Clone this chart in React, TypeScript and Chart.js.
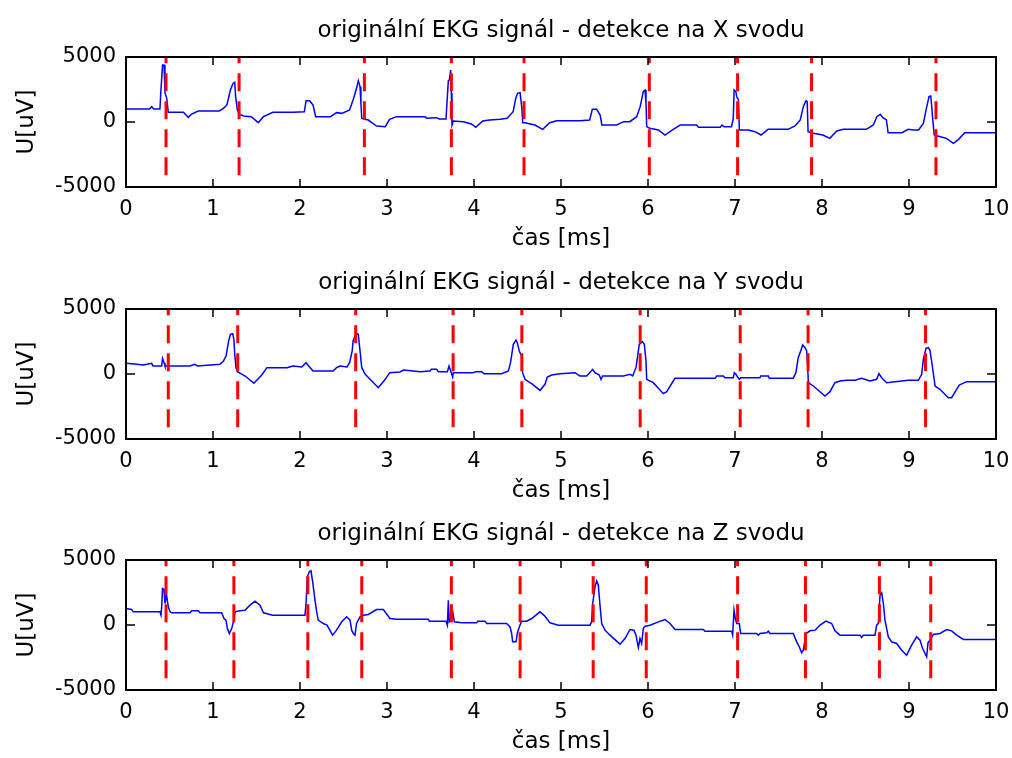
import React, { useEffect, useRef } from "react";
import { Chart, registerables } from "chart.js";

Chart.register(...registerables);

const FONT = "'DejaVu Sans', sans-serif";

const titles = [
  "originální EKG signál - detekce na X svodu",
  "originální EKG signál - detekce na Y svodu",
  "originální EKG signál - detekce na Z svodu",
];
const xLabel = "čas [ms]";
const yLabel = "U[uV]";
const xTicks = [0, 1, 2, 3, 4, 5, 6, 7, 8, 9, 10];
const yTicks = [-5000, 0, 5000];

// X lead
const tX = [0, 0.27, 0.295, 0.32, 0.39, 0.4, 0.42, 0.437, 0.448, 0.468, 0.486, 0.66, 0.716, 0.755, 0.83, 1.07, 1.12, 1.16, 1.2, 1.23, 1.25, 1.26, 1.28, 1.3, 1.35, 1.44, 1.52, 1.58, 1.69, 1.92, 2.05, 2.07, 2.11, 2.15, 2.18, 2.35, 2.42, 2.48, 2.57, 2.61, 2.65, 2.67, 2.69, 2.7, 2.71, 2.785, 2.88, 2.98, 3.03, 3.11, 3.38,
  3.437, 3.456, 3.57, 3.6, 3.678, 3.705, 3.716, 3.732, 3.74, 3.747, 3.762, 3.877, 3.97, 4.02, 4.1, 4.18, 4.3, 4.38, 4.45, 4.48, 4.5, 4.53, 4.55, 4.56, 4.586, 4.7, 4.79, 4.87, 4.95, 5.22, 5.33, 5.36, 5.41, 5.45, 5.47, 5.64, 5.72, 5.79, 5.87, 5.91, 5.946, 5.966, 5.977, 5.985, 6.02, 6.12, 6.195, 6.29, 6.37, 6.56, 6.58, 6.71,
  6.83, 6.85, 6.874, 6.96, 6.98, 6.99, 7.01, 7.02, 7.04, 7.05, 7.15, 7.23, 7.3, 7.38, 7.61, 7.69, 7.75, 7.785, 7.816, 7.83, 7.84, 7.9, 8.01, 8.09, 8.17, 8.245, 8.51, 8.59, 8.63, 8.67, 8.7, 8.74, 8.76, 8.92, 8.99, 9.05, 9.11, 9.165, 9.2, 9.23, 9.25, 9.26, 9.27, 9.29, 9.36, 9.43, 9.51, 9.57, 9.64, 10];
const uX = [1000, 1000, 1180, 1000, 1000, 2260, 4380, 4380, 2260, 1820, 745, 745, 360, 615, 850, 850, 1050, 1310, 2460, 2970, 3050, 1950, 920, 615, 460, 410, -50, 410, 745, 745, 795, 1640, 1640, 1310, 410, 410, 720, 665, 920, 1690, 2590, 3180, 2720, 1435, 280, 150, -310, -360, 205, 410, 410,
  410, 282, 333, 230, 230, 3180, 3230, 4000, 2205, -230, 77, 26, -154, -410, 77, 154, 205, 282, 795, 1820, 2205, 2256, 1050, -51, -51, -230, -564, -51, 103, 103, 154, 974, 974, 538, -230, -230, 26, 26, 410, 1180, 2333, 2460, 1436, -359, -487, -615, -1000, -564, -230, -230, -410, -410,
  -410, -230, -359, -359, 282, 2460, 2333, 1950, 1690, -615, -615, -744, -1000, -564, -564, -308, 154, 1180, 1640, 1564, -744, -872, -1000, -1256, -692, -564, -564, -230, 410, 590, 333, 154, -820, -820, -564, -615, -615, -103, 1050, 1950, 2000, 1310, 410, -1000, -1130, -1256, -1640, -1333, -820, -820];

// Y lead
const tY = [0, 0.123, 0.2, 0.295, 0.31, 0.41, 0.42, 0.437, 0.448, 0.736, 0.79, 0.82, 1.08, 1.12, 1.15, 1.18, 1.2, 1.226, 1.24, 1.25, 1.264, 1.28, 1.37, 1.47, 1.56, 1.62, 1.85, 1.92, 2.02, 2.07, 2.1, 2.15, 2.38, 2.42, 2.46, 2.54, 2.57, 2.6, 2.61, 2.64, 2.66, 2.67, 2.69, 2.71, 2.75, 2.9, 2.98, 3.03, 3.15, 3.19, 3.3, 3.38,
  3.494, 3.51, 3.57, 3.59, 3.694, 3.713, 3.732, 3.755, 3.762, 3.99, 4.02, 4.088, 4.115, 4.318, 4.395, 4.42, 4.452, 4.483, 4.498, 4.52, 4.547, 4.559, 4.586, 4.674, 4.759, 4.816, 4.843, 4.893, 4.989, 5.161, 5.218, 5.295, 5.364, 5.391, 5.44, 5.46, 5.479, 5.716, 5.793, 5.824, 5.862, 5.881, 5.9, 5.935, 5.958, 5.977, 5.985, 6.061, 6.176, 6.215, 6.31, 6.713,
  6.77, 6.79, 6.866, 6.885, 6.98, 6.992, 7.011, 7.03, 7.05, 7.065, 7.287, 7.295, 7.383, 7.395, 7.67, 7.7, 7.727, 7.758, 7.778, 7.805, 7.824, 7.835, 7.843, 7.9, 8.034, 8.092, 8.149, 8.207, 8.284, 8.379, 8.456, 8.552, 8.628, 8.655, 8.686, 8.743, 8.992, 9.107, 9.146, 9.165, 9.195, 9.222, 9.241, 9.26, 9.3, 9.356, 9.452, 9.49, 9.54, 9.578, 9.663, 10];
const uY = [820, 744, 692, 820, 615, 615, 1205, 872, 615, 615, 744, 615, 744, 1000, 1385, 2540, 3050, 3100, 2667, 1513, 487, 180, -154, -718, -77, 487, 487, 615, 538, 872, 615, 231, 231, 487, 615, 538, 872, 1770, 2540, 3050, 3100, 3050, 1770, 487, -26, -1051, -410, 103, 154, 308, 231, 180,
  231, 359, 359, 180, 180, 615, 231, -231, 103, 103, 180, 180, 26, 26, 231, 872, 2282, 2615, 2410, 1769, 1385, 103, -410, -795, -1256, -795, -231, -77, 26, 103, -154, -154, 359, 103, -77, -410, -154, -154, -26, -154, 487, 1385, 2282, 2487, 2282, 1000, -410, -667, -1513, -1359, -333, -333,
  -333, -154, -154, -282, -282, 103, -26, -231, -410, -282, -282, -154, -154, -333, -333, 103, 1256, 1820, 2230, 2026, 1769, 615, -667, -923, -1692, -1359, -667, -538, -487, -487, -333, -538, -410, 26, -282, -667, -487, -487, -26, 1128, 1974, 2026, 1820, 1000, -923, -1180, -1820, -1820, -1256, -846, -590, -590];

// Z lead
const tZ = [0, 0.065, 0.084, 0.39, 0.402, 0.41, 0.42, 0.437, 0.448, 0.467, 0.486, 0.506, 0.525, 0.736, 0.755, 0.831, 0.85, 1.1, 1.126, 1.149, 1.165, 1.188, 1.215, 1.234, 1.253, 1.31, 1.368, 1.425, 1.483, 1.54, 1.58, 1.686, 2.057, 2.069, 2.084, 2.107, 2.126, 2.146, 2.172, 2.192, 2.21, 2.268, 2.31, 2.375, 2.42, 2.48, 2.536, 2.575, 2.594, 2.613, 2.632, 2.65, 2.67, 2.69, 2.728, 2.785, 2.88, 2.958, 3.034, 3.11, 3.38,
  3.475, 3.487, 3.678, 3.694, 3.705, 3.716, 3.732, 3.755, 3.774, 3.858, 4.03, 4.042, 4.126, 4.146, 4.375, 4.414, 4.433, 4.444, 4.483, 4.498, 4.521, 4.548, 4.605, 4.663, 4.759, 4.816, 4.874, 4.969, 5.333, 5.352, 5.364, 5.391, 5.41, 5.429, 5.448, 5.468, 5.506, 5.563, 5.678, 5.736, 5.793, 5.839, 5.862, 5.889, 5.908, 5.927, 5.946, 5.966, 6.023, 6.119, 6.195, 6.253, 6.31, 6.636,
  6.655, 6.962, 6.973, 6.989, 7.004, 7.019, 7.05, 7.065, 7.249, 7.268, 7.287, 7.364, 7.383, 7.402, 7.67, 7.709, 7.739, 7.766, 7.785, 7.816, 7.862, 7.92, 7.977, 8.046, 8.111, 8.149, 8.207, 8.437, 8.456, 8.475, 8.609, 8.628, 8.648, 8.667, 8.686, 8.705, 8.724, 8.762, 8.801, 8.858, 8.916, 8.973, 9.03, 9.088, 9.126, 9.157, 9.184, 9.203, 9.218, 9.241, 9.28, 9.356, 9.433, 9.49, 9.548, 9.625, 10];
const uZ = [1269, 1192, 1013, 1013, 756, 1397, 2808, 2731, 1654, 2295, 1397, 1013, 936, 936, 1090, 1090, 936, 936, 500, 372, -269, -654, -269, 244, 1013, 1090, 1141, 1526, 1833, 1526, 936, 756, 756, 1603, 3705, 4090, 4167, 3321, 1910, 1013, 372, 115, -13, -782, -397, 244, 628, 372, -397, -654, -782, 115, 372, 628, 756, 808, 1192, 1192, 500, 449, 449,
  449, 295, 295, -13, 1910, 244, 372, 1013, 244, 167, 167, 295, 295, 115, 115, -141, -654, -1295, -1295, -654, -141, 295, 295, 500, 1013, 679, 167, -13, -13, 244, 1654, 2936, 3397, 3064, 1526, 115, -397, -782, -1474, -1038, -346, -397, -782, -1731, -1038, -1423, -269, -90, -13, 244, 423, 115, -346, -346,
  -474, -474, -782, 1141, 500, 115, 115, -654, -654, -782, -654, -603, -474, -654, -654, -1295, -1680, -2141, -1936, -654, -449, -397, -13, 295, 115, -449, -782, -782, -962, -782, -782, -13, 115, 2295, 2474, 1654, 372, -910, -1295, -1423, -1936, -2321, -1551, -910, -1167, -1808, -2192, -2449, -1372, -1167, -731, -654, -346, -449, -782, -1115, -1115];

// detected QRS positions
const detX = [0.46, 1.3, 2.74, 3.74, 4.575, 6.015, 7.03, 7.88, 9.31];
const detY = [0.486, 1.284, 2.64, 3.76, 4.55, 5.91, 7.06, 7.84, 9.19];
const detZ = [0.46, 1.24, 2.09, 2.71, 3.74, 4.53, 5.37, 5.98, 7.03, 7.81, 8.66, 9.25];
const detLow = -4100;
const detHigh = 5000;

const boxPlugin = {
  id: "matlabBox",
  afterDatasetsDraw(chart: any) {
    const { ctx, chartArea: a, scales } = chart;
    const xs = scales.x;
    const ys = scales.y;
    ctx.save();
    ctx.strokeStyle = "#000";
    ctx.lineWidth = 1.5;
    ctx.beginPath();
    for (const tk of xs.ticks) {
      const px = xs.getPixelForValue(tk.value);
      ctx.moveTo(px, a.bottom);
      ctx.lineTo(px, a.bottom - 8);
      ctx.moveTo(px, a.top);
      ctx.lineTo(px, a.top + 8);
    }
    for (const tk of ys.ticks) {
      const py = ys.getPixelForValue(tk.value);
      ctx.moveTo(a.left, py);
      ctx.lineTo(a.left + 9, py);
      ctx.moveTo(a.right, py);
      ctx.lineTo(a.right - 9, py);
    }
    ctx.stroke();
    ctx.lineWidth = 2;
    ctx.strokeRect(a.left, a.top, a.right - a.left, a.bottom - a.top);
    ctx.restore();
  },
};

function Panel(props: { title: string; t: number[]; u: number[]; det: number[]; top: number }) {
  const ref = useRef<HTMLCanvasElement | null>(null);
  useEffect(() => {
    if (!ref.current) return;
    const { title, t, u, det } = props;
    const datasets: any[] = det.map((d) => ({
      data: [
        { x: d, y: detLow },
        { x: d, y: detHigh },
      ],
      borderColor: "#ff0000",
      borderWidth: 3,
      borderDash: [18, 10],
      pointRadius: 0,
      tension: 0,
      order: 0,
    }));
    datasets.push({
      data: t.map((x, i) => ({ x, y: u[i] })),
      borderColor: "#0000ff",
      borderWidth: 1.5,
      pointRadius: 0,
      tension: 0,
      order: 1,
    });
    const chart = new Chart(ref.current, {
      type: "line",
      data: { datasets },
      options: {
        animation: false,
        responsive: false,
        maintainAspectRatio: false,
        events: [],
        layout: { padding: { left: 0, right: 16, top: 0, bottom: 0 } },
        plugins: {
          legend: { display: false },
          tooltip: { enabled: false },
          title: { display: false },
        },
        scales: {
          top: {
            type: "linear",
            position: "top",
            min: 0,
            max: 10,
            ticks: { display: false },
            grid: { display: false, drawTicks: false },
            border: { display: false },
            title: {
              display: true,
              text: title,
              color: "#000",
              font: { family: FONT, size: 23, weight: "normal", lineHeight: 1 },
              padding: { top: 19.5, bottom: 0 },
            },
            afterFit: (s: any) => {
              s.height = 57;
              s.paddingLeft = 0;
              s.paddingRight = 0;
            },
          },
          x: {
            type: "linear",
            position: "bottom",
            min: 0,
            max: 10,
            afterBuildTicks: (s: any) => {
              s.ticks = xTicks.map((v) => ({ value: v }));
            },
            ticks: {
              color: "#000",
              font: { family: FONT, size: 21 },
              padding: 10,
              maxRotation: 0,
              autoSkip: false,
              callback: (v: any) => String(v),
            },
            grid: { display: false, drawTicks: false },
            border: { display: false },
            title: {
              display: true,
              text: xLabel,
              color: "#000",
              font: { family: FONT, size: 23, lineHeight: 1 },
              padding: { top: 0, bottom: 1 },
            },
            afterFit: (s: any) => {
              s.height = 65;
              s.paddingLeft = 0;
              s.paddingRight = 0;
            },
          },
          y: {
            type: "linear",
            position: "left",
            min: -5000,
            max: 5000,
            afterBuildTicks: (s: any) => {
              s.ticks = yTicks.map((v) => ({ value: v }));
            },
            ticks: {
              color: "#000",
              font: { family: FONT, size: 21 },
              padding: 10,
              callback: (v: any) => String(v),
            },
            grid: { display: false, drawTicks: false },
            border: { display: false },
            title: {
              display: true,
              text: yLabel,
              color: "#000",
              font: { family: FONT, size: 23, lineHeight: 1 },
              padding: { top: 16, bottom: 0 },
            },
            afterFit: (s: any) => {
              s.width = 126;
              s.paddingTop = 0;
              s.paddingBottom = 0;
            },
          },
        },
      } as any,
      plugins: [boxPlugin],
    });
    return () => chart.destroy();
  }, []);
  return (
    <div style={{ position: "absolute", left: 0, top: props.top, width: 1012, height: 252 }}>
      <canvas ref={ref} width={1012} height={252} style={{ display: "block" }} />
    </div>
  );
}

export default function App() {
  return (
    <div style={{ position: "absolute", left: 0, top: 0, width: 1012, height: 758, background: "#fff" }}>
      <Panel title={titles[0]} t={tX} u={uX} det={detX} top={0} />
      <Panel title={titles[1]} t={tY} u={uY} det={detY} top={252} />
      <Panel title={titles[2]} t={tZ} u={uZ} det={detZ} top={503} />
    </div>
  );
}
